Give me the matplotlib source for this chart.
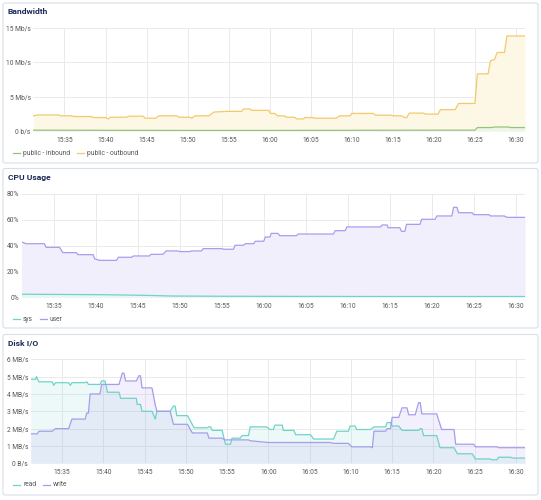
import matplotlib
matplotlib.use("Agg")
import matplotlib.pyplot as plt
from matplotlib.patches import FancyBboxPatch
from matplotlib.lines import Line2D

plt.rcParams['font.family'] = ['Roboto', 'DejaVu Sans']

W, H = 541, 500

# ---------------- data (time = minutes after 15:00) ----------------
tick_minutes = [35, 40, 45, 50, 55, 60, 65, 70, 75, 80, 85, 90]
tick_labels = ["15:35", "15:40", "15:45", "15:50", "15:55", "16:00",
               "16:05", "16:10", "16:15", "16:20", "16:25", "16:30"]
x_range = (31.2, 91.1)

# Bandwidth (Mb/s)
bw_out_t = [31.2, 31.8, 34.3, 34.5, 35.9, 36.1, 38.3, 38.5, 40.0, 40.3, 40.6, 42.6, 42.8,
            44.6, 44.8, 46.1, 46.5, 48.7, 48.9, 50.3, 50.5, 50.9, 52.6, 53.2, 54.8, 56.6,
            56.8, 57.6, 57.8, 59.9, 60.1, 60.6, 61.0, 61.8, 62.0, 63.0, 63.3, 64.1, 64.3,
            65.3, 65.5, 68.1, 68.5, 69.8, 70.0, 72.6, 72.9, 74.8, 75.0, 76.1, 76.4, 76.7,
            77.0, 78.7, 79.0, 80.5, 80.8, 82.6, 83.0, 85.0, 85.3, 86.6, 86.9, 87.4, 87.7,
            88.6, 88.9, 91.1]
bw_out_v = [2.2, 2.33, 2.33, 2.2, 2.2, 2.1, 2.1, 1.95, 1.95, 1.75, 2.0, 2.0, 2.15,
            2.15, 1.85, 1.85, 2.2, 2.2, 2.0, 2.0, 1.85, 2.2, 2.2, 2.75, 2.85, 2.85,
            3.2, 3.2, 3.0, 3.0, 2.55, 2.55, 2.2, 2.2, 2.0, 2.0, 1.75, 1.75, 1.95,
            1.95, 1.85, 1.85, 2.2, 2.2, 2.55, 2.55, 2.3, 2.3, 2.2, 2.2, 1.95, 1.95,
            2.6, 2.6, 2.45, 2.45, 3.1, 3.1, 4.0, 4.0, 8.3, 8.3, 10.2, 10.4, 11.4,
            11.4, 13.8, 13.8]
bw_in_t = [31.2, 40.0, 50.0, 60.0, 70.0, 80.0, 85.0, 85.3, 87.0, 87.4, 89.0, 89.4, 91.1]
bw_in_v = [0.12, 0.1, 0.08, 0.08, 0.1, 0.12, 0.12, 0.5, 0.5, 0.58, 0.58, 0.5, 0.5]

# CPU usage (%)
cpu_user_t = [31.15, 31.7, 33.9, 34.1, 35.7, 36.1, 37.7, 37.9, 39.7, 39.9, 40.5, 42.5, 42.7,
              44.3, 44.5, 46.4, 46.6, 48.0, 48.4, 49.8, 50.0, 51.2, 51.4, 52.6, 52.8, 55.0,
              55.2, 56.4, 56.6, 57.6, 57.8, 58.8, 59.0, 60.0, 60.2, 60.75, 60.9, 61.7, 61.9,
              63.9, 64.1, 68.3, 68.5, 69.7, 69.9, 73.9, 74.1, 74.7, 74.8, 76.2, 76.4, 76.8,
              77.0, 78.6, 78.8, 80.4, 80.6, 82.4, 82.6, 83.0, 83.2, 84.8, 85.0, 86.8, 87.0,
              88.6, 89.0, 91.1]
cpu_user_v = [43.1, 41.5, 41.5, 38.7, 38.7, 34.6, 34.6, 33.0, 33.0, 29.7, 28.6, 28.6, 31.0,
              31.0, 32.0, 32.0, 33.3, 33.3, 35.9, 35.9, 35.4, 35.4, 35.9, 35.9, 37.7, 37.7,
              37.2, 37.2, 40.3, 40.3, 41.5, 41.5, 43.4, 43.4, 46.7, 46.7, 49.5, 49.5, 47.7,
              47.7, 49.0, 49.0, 51.6, 51.6, 54.5, 54.5, 56.0, 56.0, 53.9, 53.9, 51.1, 51.1,
              56.5, 56.5, 60.4, 60.4, 63.0, 63.0, 69.7, 69.7, 65.5, 65.5, 64.0, 64.0, 63.0,
              63.0, 61.9, 61.9]
cpu_sys_t = [31.15, 36.0, 41.0, 46.0, 49.0, 55.0, 65.0, 75.0, 85.0, 91.1]
cpu_sys_v = [2.4, 2.2, 2.0, 1.5, 1.0, 0.8, 0.7, 0.6, 0.6, 0.6]

# Disk I/O (MB/s)
disk_read_t = [31.2, 31.8, 31.9, 32.2, 33.8, 34.0, 34.2, 35.8, 36.0, 36.2, 37.8, 38.0, 38.2,
               39.6, 39.8, 40.2, 40.5, 41.9, 42.1, 44.0, 44.1, 44.5, 44.7, 45.9, 46.3, 46.5,
               48.1, 48.5, 48.7, 48.9, 50.2, 51.0, 52.6, 52.8, 53.0, 53.2, 54.4, 54.8, 55.4,
               55.6, 56.6, 56.8, 57.6, 57.8, 59.8, 60.2, 60.6, 60.8, 61.7, 61.8, 63.1, 63.3,
               65.1, 65.5, 67.9, 68.3, 69.7, 69.9, 70.5, 70.7, 72.4, 72.8, 74.2, 74.4, 74.8,
               75.0, 75.8, 76.2, 78.2, 78.4, 78.6, 78.8, 80.4, 80.8, 82.5, 82.9, 84.7, 85.1,
               86.9, 87.1, 87.7, 87.9, 89.3, 89.7, 91.1]
disk_read_v = [4.85, 4.85, 5.0, 4.7, 4.7, 4.5, 4.65, 4.65, 4.5, 4.65, 4.65, 4.7, 4.55,
               4.55, 4.75, 4.75, 4.1, 4.1, 3.75, 3.75, 3.4, 3.4, 3.0, 3.0, 2.55, 3.0,
               3.0, 3.3, 3.3, 2.75, 2.75, 2.05, 2.05, 2.1, 2.1, 1.9, 1.9, 1.1, 1.1,
               1.45, 1.45, 1.6, 1.6, 2.1, 2.1, 1.95, 1.95, 2.2, 2.2, 1.9, 1.9, 1.65,
               1.65, 1.4, 1.4, 1.85, 1.85, 2.15, 2.15, 1.95, 1.95, 2.1, 2.1, 2.35, 2.35,
               2.15, 2.15, 1.9, 1.9, 2.0, 2.0, 1.6, 1.6, 0.9, 0.9, 0.55, 0.55, 0.25,
               0.25, 0.2, 0.2, 0.35, 0.35, 0.3, 0.3]
disk_write_t = [31.2, 32.0, 32.2, 33.8, 34.2, 35.8, 36.2, 37.8, 38.0, 38.2, 38.4, 39.6, 39.8,
                41.9, 42.3, 42.5, 42.7, 44.0, 44.3, 44.5, 44.7, 45.9, 46.3, 46.5, 48.1, 48.5,
                50.2, 50.6, 50.8, 52.6, 52.8, 54.4, 54.7, 57.6, 57.8, 60.0, 62.7, 63.1, 67.5,
                67.9, 69.7, 70.1, 72.4, 72.6, 72.8, 74.2, 74.4, 74.8, 75.0, 75.8, 76.2, 76.8,
                77.0, 77.8, 78.2, 78.4, 78.6, 78.8, 80.4, 81.0, 82.5, 82.7, 84.9, 85.1, 87.7,
                87.9, 91.1]
disk_write_v = [1.7, 1.7, 1.85, 1.85, 2.0, 2.0, 2.55, 2.55, 2.9, 2.9, 4.0, 4.0, 4.55,
                4.55, 5.2, 5.2, 4.75, 4.75, 5.05, 5.05, 4.35, 4.35, 3.35, 3.0, 3.0, 2.25,
                2.25, 1.9, 1.75, 1.75, 1.45, 1.45, 1.35, 1.35, 1.3, 1.2, 1.2, 1.2, 1.2,
                1.15, 1.15, 0.95, 0.95, 0.9, 1.85, 1.85, 2.0, 2.0, 2.65, 2.65, 3.2, 3.2,
                2.8, 2.8, 3.5, 3.5, 2.85, 2.85, 2.85, 1.95, 1.95, 1.1, 1.1, 0.95, 0.95,
                0.9, 0.9]

bw_ticks = [0, 5, 10, 15]
bw_tick_labels = ["0 b/s", "5 Mb/s", "10 Mb/s", "15 Mb/s"]
cpu_ticks = [0, 20, 40, 60, 80]
cpu_tick_labels = ["0%", "20%", "40%", "60%", "80%"]
disk_ticks = [0, 1, 2, 3, 4, 5, 6]
disk_tick_labels = ["0 B/s", "1 MB/s", "2 MB/s", "3 MB/s", "4 MB/s", "5 MB/s", "6 MB/s"]

# ---------------- styles ----------------
C_YEL, C_YEL_F = "#f2c96b", "#fdf7e6"
C_GRN = "#93c47d"
C_PUR, C_PUR_F = "#a59ded", "#f1effc"
C_TEA, C_TEA_F = "#6fd3c6", "#e8f7f5"
TITLE_C = "#1b2b58"
TICK_C = "#555555"
GRID_C = "#eaeaea"
FS = 4.8

fig = plt.figure(figsize=(W / 100, H / 100), dpi=100)
fig.patch.set_facecolor("white")


def fx(px):
    return px / W


def fy(py):
    return 1 - py / H


def panel(top, bottom, title, title_y):
    box = FancyBboxPatch((fx(3), fy(bottom)), fx(535), (bottom - top) / H,
                         boxstyle="round,pad=0,rounding_size=0.004",
                         transform=fig.transFigure, facecolor="white",
                         edgecolor="#d9dee7", linewidth=0.8, zorder=-5)
    fig.add_artist(box)
    fig.text(fx(8), fy(title_y), title, fontsize=6.1, fontweight="bold",
             color=TITLE_C, va="center", ha="left")


def make_ax(left, right, top, bottom, ylim, yticks, ylabels):
    ax = fig.add_axes([fx(left), fy(bottom), fx(right - left), (bottom - top) / H])
    ax.set_xlim(*x_range)
    ax.set_ylim(*ylim)
    ax.set_xticks(tick_minutes)
    ax.set_xticklabels(tick_labels)
    ax.set_yticks(yticks)
    ax.set_yticklabels(ylabels)
    ax.tick_params(length=0, labelsize=FS, colors=TICK_C, pad=4)
    ax.tick_params(axis="y", pad=2)
    for s in ax.spines.values():
        s.set_visible(False)
    ax.grid(True, color=GRID_C, linewidth=0.7)
    ax.set_axisbelow(True)
    ax.patch.set_alpha(0)
    return ax


def legend(x, y, items):
    cx = x
    for label, color in items:
        fig.add_artist(Line2D([fx(cx), fx(cx + 7)], [fy(y - 0.3), fy(y - 0.3)], color=color,
                              linewidth=0.9, transform=fig.transFigure))
        t = fig.text(fx(cx + 10), fy(y), label, fontsize=FS, color=TICK_C,
                     va="center", ha="left")
        fig.canvas.draw()
        bb = t.get_window_extent()
        cx = bb.x1 + 7


# ---------------- Bandwidth ----------------
panel(3, 163, "Bandwidth", 11)
ax1 = make_ax(33.3, 525, 27.7, 131, (0, 15), bw_ticks, bw_tick_labels)
ax1.fill_between(bw_out_t, bw_out_v, color=C_YEL_F, linewidth=0)
ax1.plot(bw_out_t, bw_out_v, color=C_YEL, linewidth=0.9)
ax1.fill_between(bw_in_t, bw_in_v, color="#eef6e8", linewidth=0)
ax1.plot(bw_in_t, bw_in_v, color=C_GRN, linewidth=0.9)
legend(13, 153.5, [("public - inbound", C_GRN), ("public - outbound", C_YEL)])

# ---------------- CPU ----------------
panel(168.5, 328, "CPU Usage", 177.5)
ax2 = make_ax(21.7, 525, 194, 297.3, (0, 80), cpu_ticks, cpu_tick_labels)
ax2.fill_between(cpu_user_t, cpu_user_v, color=C_PUR_F, linewidth=0)
ax2.plot(cpu_user_t, cpu_user_v, color=C_PUR, linewidth=0.9)
ax2.fill_between(cpu_sys_t, cpu_sys_v, color=C_TEA_F, linewidth=0)
ax2.plot(cpu_sys_t, cpu_sys_v, color=C_TEA, linewidth=0.9)
legend(13, 319.5, [("sys", C_TEA), ("user", C_PUR)])

# ---------------- Disk I/O ----------------
panel(334.5, 495, "Disk I/O", 343)
ax3 = make_ax(30.7, 525, 359.3, 463.3, (0, 6), disk_ticks, disk_tick_labels)
ax3.fill_between(disk_read_t, disk_read_v, color=C_TEA, alpha=0.12, linewidth=0)
ax3.fill_between(disk_write_t, disk_write_v, color=C_PUR, alpha=0.15, linewidth=0)
ax3.plot(disk_read_t, disk_read_v, color=C_TEA, linewidth=0.9)
ax3.plot(disk_write_t, disk_write_v, color=C_PUR, linewidth=0.9)
legend(13, 485, [("read", C_TEA), ("write", C_PUR)])

fig.savefig("out.png", dpi=100, facecolor="white")
